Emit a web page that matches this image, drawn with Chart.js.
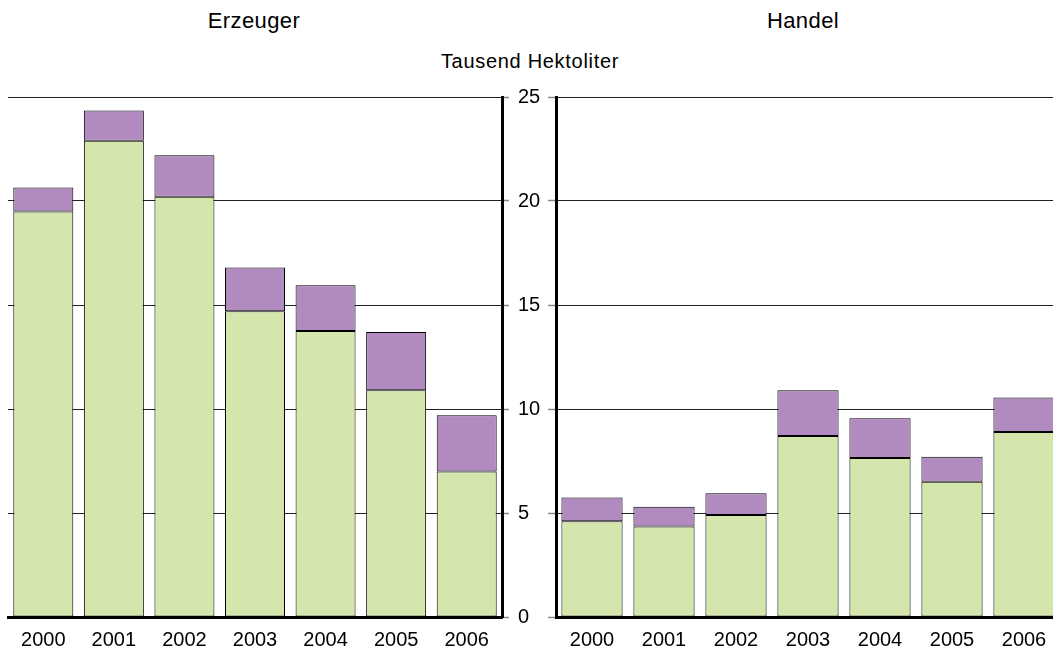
<!DOCTYPE html>
<html>
<head>
<meta charset="utf-8">
<script src="https://cdn.jsdelivr.net/npm/chart.js@4.4.0/dist/chart.umd.min.js"></script>
<style>
  html, body { margin: 0; padding: 0; width: 1053px; height: 649px; overflow: hidden; background: #fff; }
  canvas { position: absolute; top: 0; }
  .t { position: absolute; font-family: "Liberation Sans", Arial, sans-serif; color: #000; white-space: nowrap; transform: translateX(-50%); }
</style>
</head>
<body>
<div class="t" style="left:254px; top:8px; font-size:22px; letter-spacing:0.4px;">Erzeuger</div>
<div class="t" style="left:803px; top:8px; font-size:22px; letter-spacing:0.4px;">Handel</div>
<div class="t" style="left:530px; top:50px; font-size:20px; letter-spacing:0.7px;">Tausend Hektoliter</div>
<canvas id="left" width="552" height="649" style="left:0px;"></canvas>
<canvas id="right" width="512" height="649" style="left:548px;"></canvas>
<script>
const years = ['2000', '2001', '2002', '2003', '2004', '2005', '2006'];
const erzeugerGreen = [19.5, 22.9, 20.2, 14.7, 13.75, 10.9, 7.0];
const erzeugerPurple = [1.15, 1.45, 2.0, 2.1, 2.2, 2.8, 2.7];
const handelGreen = [4.6, 4.35, 4.9, 8.7, 7.65, 6.5, 8.9];
const handelPurple = [1.15, 0.95, 1.05, 2.2, 1.9, 1.2, 1.65];
const yTicks = [0, 5, 10, 15, 20, 25];

const GREEN = '#d5e6ac';
const PURPLE = '#b18abf';
const FONT = { family: '"Liberation Sans", Arial, sans-serif', size: 20 };

function datasets(g, p) {
  return [
    { data: g, backgroundColor: GREEN, borderColor: '#000', borderWidth: 1, borderSkipped: false, barPercentage: 0.85, categoryPercentage: 1.0 },
    { data: p, backgroundColor: PURPLE, borderColor: '#000', borderWidth: 1, borderSkipped: false, barPercentage: 0.85, categoryPercentage: 1.0 }
  ];
}

function makeChart(id, g, p, side) {
  const isLeft = side === 'left';
  return new Chart(document.getElementById(id), {
    type: 'bar',
    data: { labels: years, datasets: datasets(g, p) },
    options: {
      responsive: false,
      animation: false,
      devicePixelRatio: 1,
      layout: { padding: { left: isLeft ? 8 : 0, top: 97, right: 0, bottom: 0 } },
      plugins: { legend: { display: false }, tooltip: { enabled: false }, title: { display: false } },
      scales: {
        x: {
          stacked: true,
          grid: { display: false },
          border: { display: true, color: '#000', width: 3 },
          ticks: { color: '#000', font: FONT, padding: 3, maxRotation: 0, autoSkip: false },
          afterFit: s => { s.height = 32; }
        },
        y: {
          stacked: true,
          position: isLeft ? 'right' : 'left',
          min: 0, max: 25,
          afterBuildTicks: s => { s.ticks = yTicks.map(v => ({ value: v })); },
          grid: { color: '#222', lineWidth: 1, drawTicks: true, tickLength: isLeft ? 7 : 8, tickColor: '#888', tickWidth: 1.5 },
          border: { display: true, color: '#000', width: 3 },
          ticks: { color: isLeft ? '#000' : 'rgba(0,0,0,0)', font: FONT, padding: 9 },
          afterFit: s => { s.width = isLeft ? 50 : 8; }
        }
      }
    }
  });
}

makeChart('left', erzeugerGreen, erzeugerPurple, 'left');
makeChart('right', handelGreen, handelPurple, 'right');
</script>
</body>
</html>
